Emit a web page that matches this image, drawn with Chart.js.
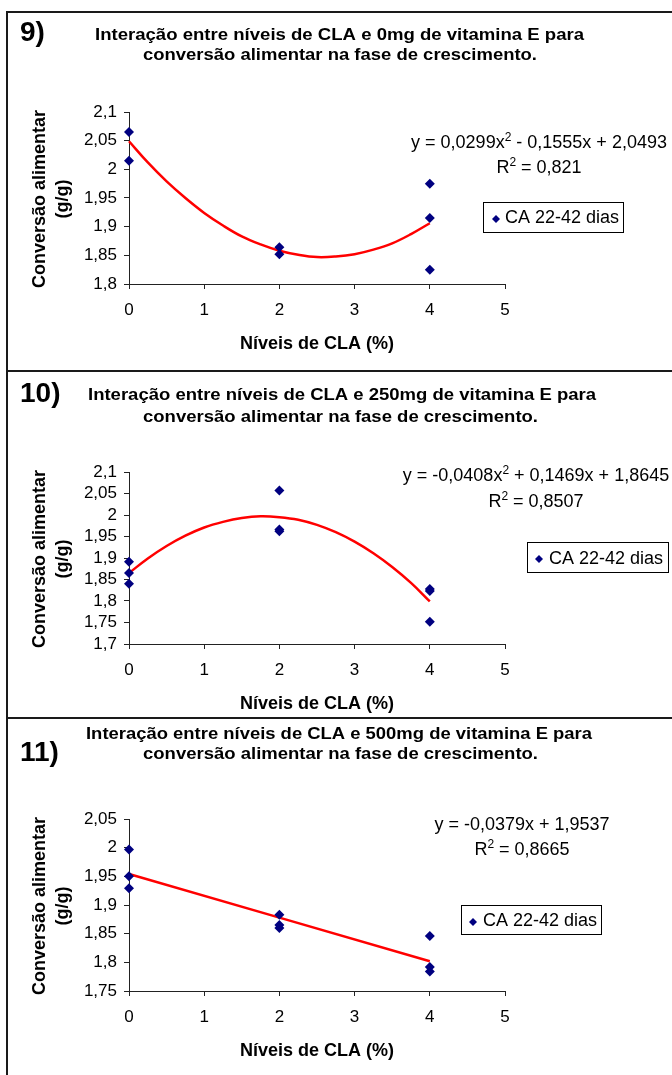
<!DOCTYPE html>
<html><head><meta charset="utf-8">
<script src="https://cdn.jsdelivr.net/npm/chart.js@4.4.1/dist/chart.umd.min.js"></script>
<style>
html,body{margin:0;padding:0;background:#fff;}
#wrap{position:relative;width:672px;height:1075px;overflow:hidden;background:#fff;}
canvas{position:absolute;left:0;}
.hl{position:absolute;left:6px;height:2px;background:#1a1a1a;width:666px;}
.vl{position:absolute;left:6px;top:11px;width:2px;height:1064px;background:#1a1a1a;}
</style></head><body>
<div id="wrap">
<canvas id="c1" width="672" height="371" style="top:0px"></canvas>
<canvas id="c2" width="672" height="347" style="top:371px"></canvas>
<canvas id="c3" width="672" height="357" style="top:718px"></canvas>
<div class="vl"></div>
<div class="hl" style="top:11px"></div>
<div class="hl" style="top:370px"></div>
<div class="hl" style="top:717px"></div>
</div>
<script>
// ---------- data ----------
const pts1X = [0, 0, 2, 2, 4, 4, 4];
const pts1Y = [2.065, 2.015, 1.864, 1.852, 1.975, 1.915, 1.825];
const pts2X = [0, 0, 0, 2, 2, 2, 4, 4, 4];
const pts2Y = [1.891, 1.865, 1.840, 2.057, 1.966, 1.962, 1.828, 1.823, 1.752];
const pts3X = [0, 0, 0, 2, 2, 2, 4, 4, 4];
const pts3Y = [1.997, 1.950, 1.929, 1.883, 1.865, 1.860, 1.846, 1.792, 1.784];
const trendX = [0, 0.25, 0.5, 0.75, 1, 1.25, 1.5, 1.75, 2, 2.25, 2.5, 2.75, 3, 3.25, 3.5, 3.75, 4];
const trend1Y = [2.049, 2.012, 1.979, 1.950, 1.924, 1.902, 1.883, 1.869, 1.858, 1.851, 1.847, 1.848, 1.852, 1.860, 1.871, 1.887, 1.906];
const trend2Y = [1.865, 1.899, 1.928, 1.952, 1.971, 1.984, 1.993, 1.997, 1.995, 1.989, 1.977, 1.960, 1.938, 1.911, 1.879, 1.842, 1.799];
const trend3X = [0, 4];
const trend3Y = [1.954, 1.802];
const seriesName = 'CA 22-42 dias';
const xTitle = 'Níveis de CLA (%)';
const yTitle = ['Conversão alimentar', '(g/g)'];
const numbers = ['9)', '10)', '11)'];
const titles = [
  ['Interação entre níveis de CLA e 0mg de vitamina E para', 'conversão alimentar na fase de crescimento.'],
  ['Interação entre níveis de CLA e 250mg de vitamina E para', 'conversão alimentar na fase de crescimento.'],
  ['Interação entre níveis de CLA e 500mg de vitamina E para', 'conversão alimentar na fase de crescimento.']
];
const equations = [
  [['y = 0,0299x', 0], ['2', 1], [' - 0,1555x + 2,0493', 0]],
  [['y = -0,0408x', 0], ['2', 1], [' + 0,1469x + 1,8645', 0]],
  [['y = -0,0379x + 1,9537', 0]]
];
const r2Texts = ['0,821', '0,8507', '0,8665'];
const yRanges = [[1.8, 2.1], [1.7, 2.1], [1.75, 2.05]];
const xRange = [0, 5];

// ---------- layout (page coords) ----------
const FONT = '"Liberation Sans", Arial, sans-serif';
const panels = [
  {id:'c1', top:0, h:371, plotTop:112, plotBot:284,
   num:{x:20, base:41}, tl:[{x:95,w:489,base:40},{x:143,w:394,base:60}],
   eq:{cx:539, base:148, r2base:173}, leg:{x:483,y:202,w:140,h:30,dx:496,dy:219,tx:505,tb:223},
   xtb:349},
  {id:'c2', top:371, h:347, plotTop:472, plotBot:644,
   num:{x:20, base:402}, tl:[{x:88,w:508,base:400},{x:143,w:395,base:422}],
   eq:{cx:536, base:481, r2base:507}, leg:{x:527,y:542,w:141,h:30,dx:539,dy:559,tx:549,tb:564},
   xtb:709},
  {id:'c3', top:718, h:357, plotTop:819, plotBot:991,
   num:{x:20, base:761}, tl:[{x:86,w:506,base:739},{x:143,w:395,base:759}],
   eq:{cx:522, base:830, r2base:855}, leg:{x:461,y:905,w:140,h:29,dx:473,dy:922,tx:483,tb:926},
   xtb:1056}
];

function fitText(ctx, text, x, base, w, font) {
  ctx.font = font;
  const m = ctx.measureText(text).width;
  ctx.save();
  ctx.translate(x, base);
  ctx.scale(w / m, 1);
  ctx.textAlign = 'left';
  ctx.textBaseline = 'alphabetic';
  ctx.fillText(text, 0, 0);
  ctx.restore();
}
function segWidth(ctx, segs) {
  let w = 0;
  for (const [t, sup] of segs) { ctx.font = sup ? '12px ' + FONT : '18px ' + FONT; w += ctx.measureText(t).width; }
  return w;
}
function drawSegs(ctx, segs, cx, base) {
  let x = cx - segWidth(ctx, segs) / 2;
  ctx.textAlign = 'left'; ctx.textBaseline = 'alphabetic';
  for (const [t, sup] of segs) {
    ctx.font = sup ? '12px ' + FONT : '18px ' + FONT;
    ctx.fillText(t, x, sup ? base - 7 : base);
    x += ctx.measureText(t).width;
  }
}
function fmt(v) { return String(Number(v.toFixed(2))).replace('.', ','); }

function makeChart(i, px, py, tx, ty) {
  const P = panels[i];
  const off = P.top;
  const textPlugin = {
    id: 'txt' + i,
    afterDraw(chart) {
      const ctx = chart.ctx;
      ctx.save();
      ctx.translate(0, -off);
      ctx.fillStyle = '#000';
      ctx.font = 'bold 28px ' + FONT; ctx.textAlign = 'left'; ctx.textBaseline = 'alphabetic';
      ctx.fillText(numbers[i], P.num.x, P.num.base);
      P.tl.forEach((l, k) => fitText(ctx, titles[i][k], l.x, l.base, l.w, 'bold 17px ' + FONT));
      drawSegs(ctx, equations[i], P.eq.cx, P.eq.base);
      drawSegs(ctx, [['R', 0], ['2', 1], [' = ' + r2Texts[i], 0]], P.eq.cx, P.eq.r2base);
      // legend
      const L = P.leg;
      ctx.fillStyle = '#fff';
      ctx.fillRect(L.x, L.y, L.w, L.h);
      ctx.strokeStyle = '#000'; ctx.lineWidth = 1;
      ctx.strokeRect(L.x + 0.5, L.y + 0.5, L.w, L.h);
      ctx.fillStyle = '#000080';
      ctx.beginPath();
      ctx.moveTo(L.dx, L.dy - 4); ctx.lineTo(L.dx + 4, L.dy); ctx.lineTo(L.dx, L.dy + 4); ctx.lineTo(L.dx - 4, L.dy); ctx.closePath();
      ctx.fill();
      ctx.fillStyle = '#000';
      ctx.font = '18px ' + FONT; ctx.textAlign = 'left'; ctx.textBaseline = 'alphabetic';
      ctx.fillText(seriesName, L.tx, L.tb);
      // axis titles
      ctx.font = 'bold 18px ' + FONT; ctx.textAlign = 'center';
      const ca = chart.chartArea;
      ctx.fillText(xTitle, (ca.left + ca.right) / 2, P.xtb);
      const cy = (P.plotTop + P.plotBot) / 2 + 1;
      [45, 68].forEach((bx, k) => {
        ctx.save(); ctx.translate(bx, cy); ctx.rotate(-Math.PI / 2);
        ctx.fillText(yTitle[k], 0, 0); ctx.restore();
      });
      ctx.restore();
    }
  };
  const ptsData = px.map((x, k) => ({x, y: py[k]}));
  const trData = tx.map((x, k) => ({x, y: ty[k]}));
  return new Chart(document.getElementById(P.id), {
    type: 'scatter',
    data: { datasets: [
      { label: seriesName, data: ptsData, pointStyle: 'rectRot', pointRadius: 5, pointHoverRadius: 5,
        backgroundColor: '#000080', borderColor: '#000080', borderWidth: 0, clip: false, order: 0 },
      { type: 'line', label: 'trend', data: trData, showLine: true, pointRadius: 0, borderColor: '#ff0000',
        borderWidth: 2.5, tension: 0.4, fill: false, clip: false, order: 1 }
    ]},
    options: {
      responsive: false, animation: false, devicePixelRatio: 1,
      layout: { padding: { left: 0, right: 167, top: P.plotTop - off, bottom: 0 } },
      plugins: { legend: { display: false }, tooltip: { enabled: false }, title: { display: false } },
      scales: {
        x: { type: 'linear', min: xRange[0], max: xRange[1],
             afterFit: s => { s.height = P.h - (P.plotBot - off); },
             ticks: { stepSize: 1, padding: 11, color: '#000', autoSkip: false, font: { family: FONT, size: 17 }, maxRotation: 0 },
             grid: { display: true, drawOnChartArea: false, drawTicks: true, tickLength: 5, color: '#222', lineWidth: 1 },
             border: { display: true, color: '#222', width: 1 } },
        y: { type: 'linear', min: yRanges[i][0], max: yRanges[i][1],
             afterFit: s => { s.width = 129; },
             ticks: { stepSize: 0.05, padding: 7, color: '#000', autoSkip: false, font: { family: FONT, size: 17 }, callback: v => fmt(v) },
             grid: { display: true, drawOnChartArea: false, drawTicks: true, tickLength: 5, color: '#222', lineWidth: 1 },
             border: { display: true, color: '#222', width: 1 } }
      }
    },
    plugins: [textPlugin]
  });
}
makeChart(0, pts1X, pts1Y, trendX, trend1Y);
makeChart(1, pts2X, pts2Y, trendX, trend2Y);
makeChart(2, pts3X, pts3Y, trend3X, trend3Y);
</script>
</body></html>
